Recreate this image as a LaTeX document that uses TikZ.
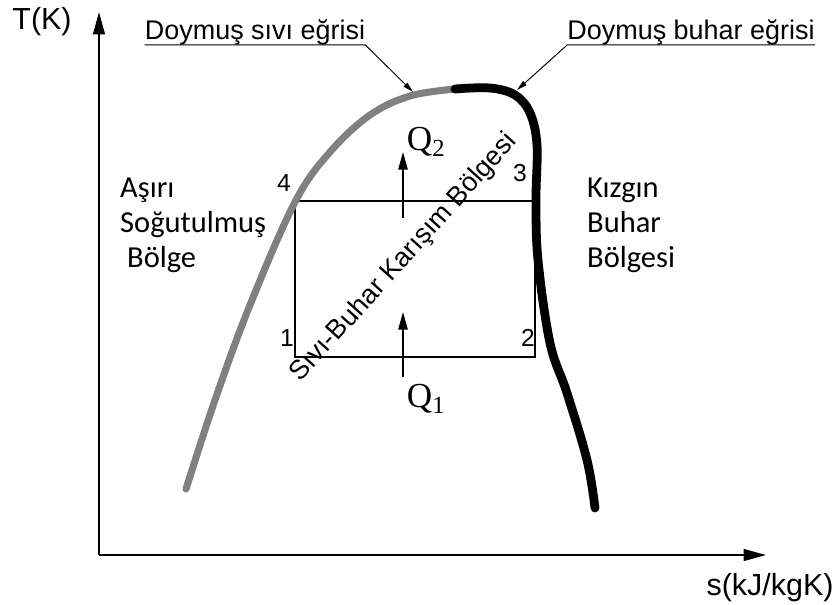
\documentclass[tikz,border=0pt]{standalone}
\usepackage{fontspec}
\setmainfont{Liberation Sans}
\newfontfamily\calibrifont{Carlito}
\newfontfamily\timesfont{Liberation Serif}
\usepackage{tikz}
\usetikzlibrary{arrows.meta, positioning}
\definecolor{liqgray}{RGB}{128, 128, 128}
\tikzset{
  axisline/.style={
    line width=1.6pt, -{Triangle[length=19pt, width=10pt]}
  },
  liqcurve/.style={
    line width=6pt, color=liqgray, line cap=round
  },
  vapcurve/.style={
    line width=7.5pt, color=black, line cap=round
  },
  cycleline/.style={line width=1.2pt},
  heatarrow/.style={
    line width=1.3pt, -{Triangle[length=15pt, width=8pt]}
  },
  leader/.style={
    line width=0.8pt, -{Triangle[length=9pt, width=4.5pt]}
  },
  axislabel/.style={font=\fontsize{26}{30}\selectfont, inner sep=0pt},
  curvelabel/.style={font=\fontsize{23}{27}\selectfont, inner sep=0pt},
  mixlabel/.style={font=\fontsize{23}{27}\selectfont, inner sep=0pt},
  regionlabel/.style={
    font=\calibrifont\fontsize{26}{30}\selectfont,
    align=left, inner sep=0pt
  },
  pointlabel/.style={font=\fontsize{21}{25}\selectfont, inner sep=0pt},
  heatlabel/.style={font=\timesfont\fontsize{30}{34}\selectfont, inner sep=0pt}
}

\begin{document}
\begin{tikzpicture}[x=0.03cm, y=-0.03cm]
  \useasboundingbox (0,0) rectangle (838,604);

  %% — — — Axes — — —
  \coordinate (origin) at (99,555);
  \coordinate (ytip) at (99,12);
  \coordinate (xtip) at (766,555);
  \draw[axisline] (origin) -- (ytip);
  \draw[axisline] (origin) -- (xtip);
  \node[axislabel] (tlab) at (42,22) {T(K)};
  \node[axislabel] (slab) at (770,588) {s(kJ/kgK)};

  %% — — — Cycle 1-2-3-4 — — —
  \coordinate (p1) at (295,357);
  \coordinate (p2) at (535,357);
  \coordinate (p3) at (535,201);
  \coordinate (p4) at (295,201);
  \draw[cycleline] (p1) -- (p2) -- (p3) -- (p4) -- cycle;

  %% — — — Saturation curves — — —
  \draw[liqcurve] plot[smooth, tension=0.6] coordinates {
    (186,489) (215,400) (250,305) (295,202) (330,152)
    (370,115) (410,96) (455,89)};
  \draw[vapcurve] plot[smooth, tension=0.6] coordinates {
    (455,89) (490,88) (515,95) (530,113) (537,145)
    (536,200) (538,260) (550,343) (567,393) (587,460) (595,508)};

  %% — — — Point labels — — —
  \node[pointlabel] (n1) at (287,338) {1};
  \node[pointlabel] (n2) at (528,338) {2};
  \node[pointlabel] (n3) at (520,173) {3};
  \node[pointlabel] (n4) at (284,183) {4};

  %% — — — Heat arrows — — —
  \coordinate (q2a) at (403,218);
  \coordinate (q2b) at (403,152);
  \coordinate (q1a) at (403,377);
  \coordinate (q1b) at (403,312);
  \draw[heatarrow] (q2a) -- (q2b);
  \draw[heatarrow] (q1a) -- (q1b);
  \node[heatlabel] (qtwo) at (426,142) {Q\textsubscript{2}};
  \node[heatlabel] (qone) at (426,399) {Q\textsubscript{1}};

  %% — — — Region labels — — —
  \node[mixlabel, rotate=48] (mix) at (404,258) {Sıvı-Buhar Karışım Bölgesi};
  \node[regionlabel, anchor=west] (asiri) at (120,225)
    {Aşırı\\Soğutulmuş\\\hspace*{0.23em}Bölge};
  \node[regionlabel, anchor=west] (kizgin) at (587,225)
    {Kızgın\\Buhar\\Bölgesi};

  %% — — — Curve names — — —
  \coordinate (sivitip) at (413,92);
  \coordinate (buhartip) at (517,90);
  \node[curvelabel, anchor=base] (sivi) at (255,39) {Doymuş sıvı eğrisi};
  \node[curvelabel, anchor=base] (buhar) at (691,39) {Doymuş buhar eğrisi};
  \draw[leader] (sivi.south west) -- (sivi.south east) -- (sivitip);
  \draw[leader] (buhar.south east) -- (buhar.south west) -- (buhartip);

\end{tikzpicture}
\end{document}
